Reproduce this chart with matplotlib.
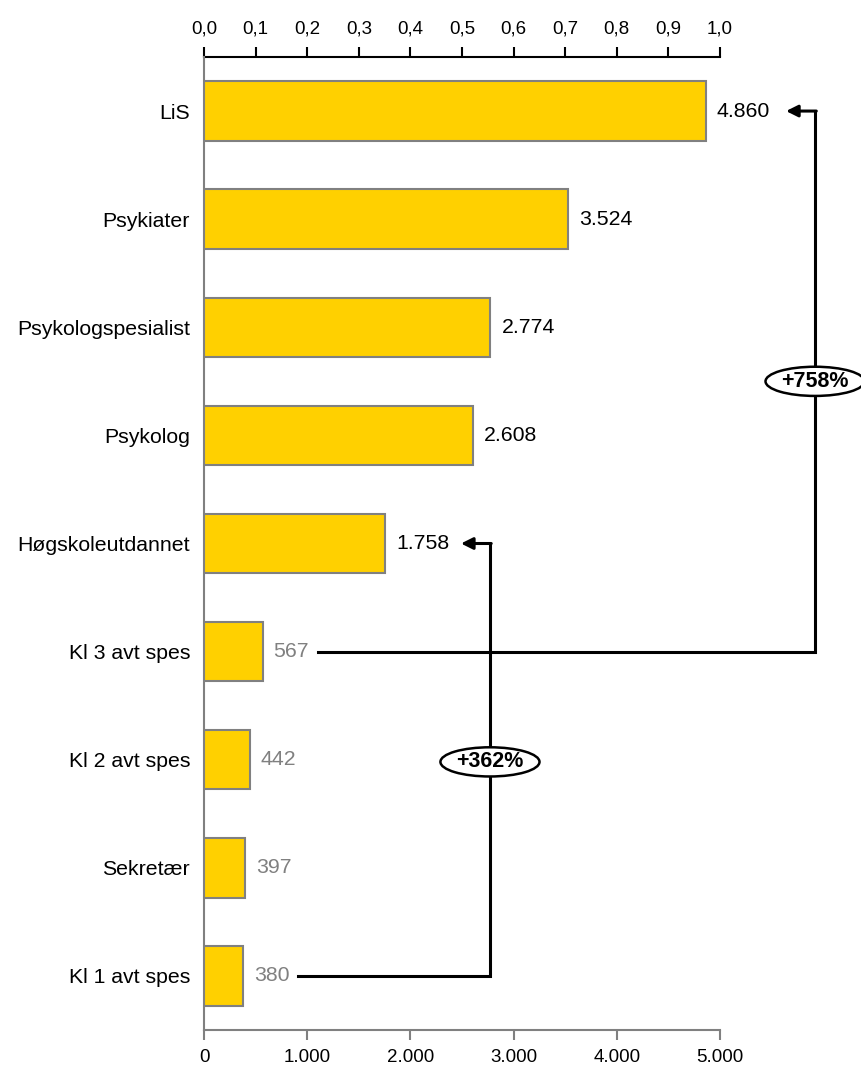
import matplotlib
matplotlib.use("Agg")
import matplotlib.pyplot as plt
from matplotlib.patches import Ellipse
from matplotlib.ticker import FuncFormatter
import numpy as np

plt.rcParams['font.family'] = ['Liberation Sans', 'DejaVu Sans']

categories = ["LiS", "Psykiater", "Psykologspesialist", "Psykolog", "Høgskoleutdannet",
              "Kl 3 avt spes", "Kl 2 avt spes", "Sekretær", "Kl 1 avt spes"]
values = [4860, 3524, 2774, 2608, 1758, 567, 442, 397, 380]
label_dark = [True, True, True, True, True, False, False, False, False]

bottom_ticks = [0, 1000, 2000, 3000, 4000, 5000]
top_ticks = [0.0, 0.1, 0.2, 0.3, 0.4, 0.5, 0.6, 0.7, 0.8, 0.9, 1.0]

ann1_text = "+758%"
ann2_text = "+362%"

BAR = "#FFD000"
GRAY = "#808080"

fig = plt.figure(figsize=(8.61, 10.71), dpi=100)
ax = fig.add_axes([204/861, 1 - 1030/1071, (720-204)/861, (1030-57)/1071])

y = np.arange(len(categories))
ax.barh(y, values, height=0.55, color=BAR, edgecolor=GRAY, linewidth=1.5, zorder=3)
ax.set_xlim(0, 5000)
ax.set_ylim(len(categories) - 0.5, -0.5)
ax.set_yticks(y)
ax.set_yticklabels(categories, fontsize=15.3)
ax.tick_params(axis='y', length=0, pad=10)

ax.set_xticks(bottom_ticks)
ax.xaxis.set_major_formatter(FuncFormatter(lambda v, p: f"{int(v):,}".replace(",", ".")))
ax.tick_params(axis='x', direction='out', length=7, width=1.5, color=GRAY, labelsize=13.5, pad=7)

for s in ['right', 'top']:
    ax.spines[s].set_visible(False)
for s in ['left', 'bottom']:
    ax.spines[s].set_color(GRAY)
    ax.spines[s].set_linewidth(1.5)

sec = ax.secondary_xaxis('top', functions=(lambda x: x / 5000, lambda x: x * 5000))
sec.set_xticks(top_ticks)
sec.xaxis.set_major_formatter(FuncFormatter(lambda v, p: f"{v:.1f}".replace(".", ",")))
sec.tick_params(direction='out', length=7, width=1.5, color='black', labelsize=13.5, pad=7)
sec.spines['top'].set_linewidth(1.5)
sec.spines['top'].set_color('black')

for yi, v, dark in zip(y, values, label_dark):
    ax.annotate(f"{v:,}".replace(",", "."), xy=(v, yi), xytext=(8, 0),
                textcoords='offset points', va='center', ha='left',
                fontsize=15.3, color='black' if dark else GRAY)

# Bracket arrows
lw = 2.2
# +758%: from Kl 3 avt spes to LiS
x0a, xca, xta = 1105, 5921, 5640
ax.plot([x0a, xca, xca], [5, 5, 0], color='black', lw=lw, clip_on=False, zorder=4,
        solid_joinstyle='miter')
ax.annotate('', xy=(xta, 0), xytext=(xca + 12, 0),
            arrowprops=dict(arrowstyle='-|>,head_length=0.7,head_width=0.35',
                            color='black', lw=lw, shrinkA=0, shrinkB=0),
            annotation_clip=False, zorder=4)
# +362%: from Kl 1 avt spes to Høgskoleutdannet
x0b, xcb, xtb = 911, 2771, 2490
ax.plot([x0b, xcb, xcb], [8, 8, 4], color='black', lw=lw, clip_on=False, zorder=4,
        solid_joinstyle='miter')
ax.annotate('', xy=(xtb, 4), xytext=(xcb + 12, 4),
            arrowprops=dict(arrowstyle='-|>,head_length=0.7,head_width=0.35',
                            color='black', lw=lw, shrinkA=0, shrinkB=0),
            annotation_clip=False, zorder=4)

# Ellipse labels
for (cx, cy, txt) in [(xca, 2.5, ann1_text), (xcb, 6.02, ann2_text)]:
    e = Ellipse((cx, cy), width=960, height=0.27, facecolor='white', edgecolor='black',
                linewidth=1.8, clip_on=False, zorder=5)
    ax.add_patch(e)
    ax.text(cx, cy, txt, ha='center', va='center', fontsize=15.5, fontweight='bold',
            zorder=6, clip_on=False)

fig.savefig("out.png", dpi=100)
